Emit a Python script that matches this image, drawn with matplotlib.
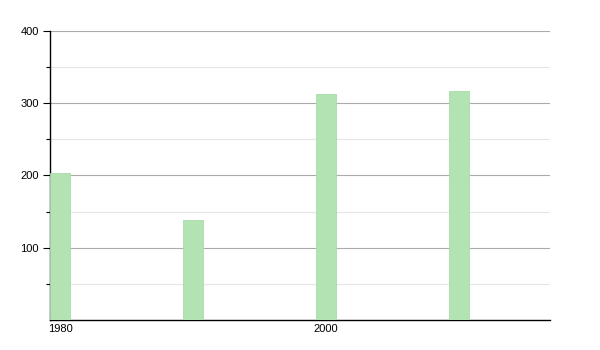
import matplotlib
matplotlib.use('Agg')
import matplotlib.pyplot as plt
import numpy as np

# values
years = [1980, 1990, 2000, 2010]
values = [203, 138, 312, 317]
xtick_years = [1980, 2000]
ytick_major = [100, 200, 300, 400]
ytick_minor = [50, 150, 250, 350]

plt.rcParams['font.family'] = ['Liberation Sans', 'DejaVu Sans']

fig = plt.figure(figsize=(6, 3.5), dpi=100)
ax = fig.add_axes([50/600, 30/350, 500/600, 289.3/350])

ax.bar(years, values, width=1.5, color='#b3e3b3', edgecolor='#a8dba8', linewidth=0.6, zorder=3)

ax.set_xlim(1979.25, 2016.85)
ax.set_ylim(0, 400)

ax.set_yticks(ytick_major)
ax.set_yticks(ytick_minor, minor=True)
ax.set_xticks(xtick_years)
ax.set_xticklabels([str(y) for y in xtick_years])

ax.grid(axis='y', which='major', color='#aaaaaa', lw=0.8, zorder=0)
ax.grid(axis='y', which='minor', color='#e6e6e6', lw=0.8, zorder=0)

ax.tick_params(axis='y', which='major', length=5, width=0.8, labelsize=8, pad=3)
ax.tick_params(axis='y', which='minor', length=3, width=0.8)
ax.tick_params(axis='x', length=0, labelsize=8, pad=3)

for s in ['top', 'right']:
    ax.spines[s].set_visible(False)
for s in ['left', 'bottom']:
    ax.spines[s].set_color('black')
    ax.spines[s].set_linewidth(1)

fig.savefig('out.png', dpi=100)
